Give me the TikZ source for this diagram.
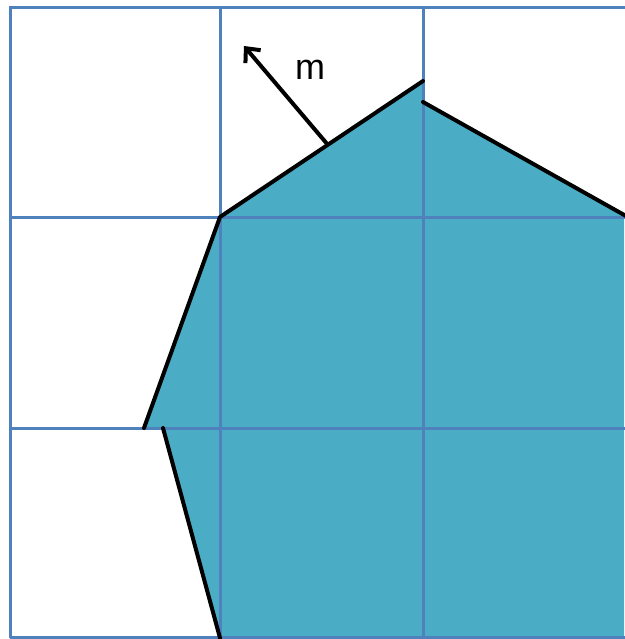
\documentclass[tikz,border=0pt]{standalone}
\usepackage{fontspec}
\setmainfont{Liberation Sans}
\usetikzlibrary{arrows.meta}
\definecolor{gridblue}{HTML}{4F81BD}
\definecolor{aqua}{HTML}{4BACC6}
\begin{document}
\begin{tikzpicture}[x=1pt,y=-1pt,
  gridline/.style={draw=gridblue,line width=3pt},
  edge/.style={draw=black,line width=4pt,line cap=round,line join=round},
  vec/.style={draw=black,line width=4pt,-{Straight Barb[length=11pt,width=20pt,line width=4pt]}}]
\useasboundingbox (0,0) rectangle (624,639);
% filled polygon
\fill[aqua] (220,638) -- (163,428) -- (144,428) -- (220,217) -- (423,81) -- (423,102) -- (624,215) -- (624,638) -- cycle;
% grid
\draw[gridline] (10,638) -- (10,8) -- (626,8);
\draw[gridline] (220,8) -- (220,638);
\draw[gridline] (423,8) -- (423,638);
\draw[gridline] (10,217) -- (626,217);
\draw[gridline] (10,428) -- (626,428);
\draw[gridline] (10,637) -- (626,637);
% outline edges
\coordinate (p1) at (144,428);
\coordinate (p2) at (220,217);
\coordinate (p3) at (423,81);
\coordinate (q1) at (423,102);
\coordinate (q2) at (626,216);
\coordinate (r1) at (163,428);
\coordinate (r2) at (220,638);
\draw[edge] (p1) -- (p2) -- (p3);
\draw[edge] (q1) -- (q2);
\draw[edge] (r1) -- (r2);
% normal vector
\coordinate (a0) at (328,145);
\coordinate (a1) at (244,46);
\draw[vec] (a0) -- (a1);
\node[font=\fontsize{36}{40}\selectfont,inner sep=0pt] (m) at (310,70) {m};
\end{tikzpicture}
\end{document}
